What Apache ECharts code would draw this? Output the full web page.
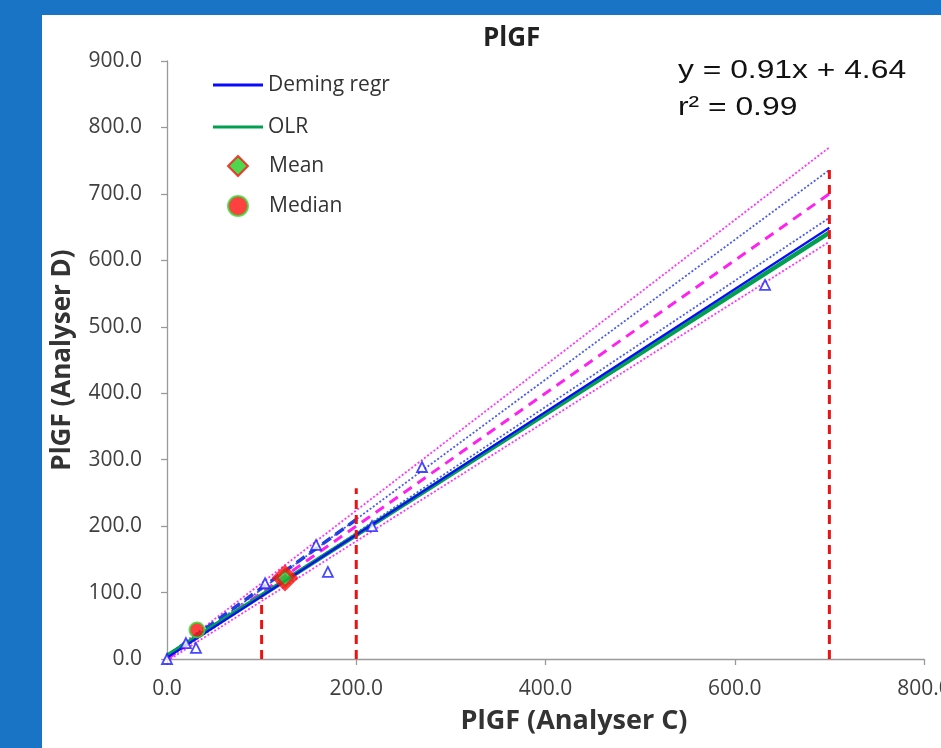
<!DOCTYPE html>
<html>
<head>
<meta charset="utf-8">
<script src="https://cdn.jsdelivr.net/npm/echarts@6/dist/echarts.min.js"></script>
<style>
html,body{margin:0;padding:0;background:#1a74c5;overflow:hidden;}
#wrap{position:absolute;left:0;top:0;width:941px;height:748px;background:#1a74c5;}
#chart{position:absolute;left:42px;top:15px;width:899px;height:733px;background:#fff;}
</style>
</head>
<body>
<div id="wrap"><div id="chart"></div></div>
<script>
// ---- data ----
const sampleX = [0, 20, 30.6, 103.6, 157.5, 170, 216.7, 269.5, 632];
const sampleY = [0, 24, 16.6, 114, 171.7, 131, 200, 289, 563];
const meanPoint = [124.7, 122];
const medianPoint = [31.7, 43.7];
const lineX = [0, 700];
const demingY = [2, 649];
const olrY = [4.64, 641.6];
const identityY = [0, 700];
const demingCIUpperY = [0, 736];
const demingCILowerY = [0, 664];
const bandUpperY = [5, 770];
const bandLowerY = [-3, 628];
const lowRangeX = [0, 205];
const lowRangeY = [4, 215];
const cutoffX = [100, 200, 700];
const cutoffTopY = [92, 257, 739];
const xTicks = [0, 200, 400, 600, 800];
const yTicks = [0, 100, 200, 300, 400, 500, 600, 700, 800, 900];

const pairs = (xs, ys) => xs.map((x, i) => [x, ys[i]]);
const chart = echarts.init(document.getElementById('chart'));
const font = '"Open Sans", "Noto Sans", sans-serif';

function lineSeries(name, ys, color, width, type, xs, z) {
  return {
    name, type: 'line', color, data: pairs(xs || lineX, ys), symbol: 'none', silent: true,
    itemStyle: { color }, lineStyle: { color, width, type }, z: z || 2, animation: false
  };
}

const series = [
  lineSeries('bandU', bandUpperY, '#ff33ff', 1.8, [2, 2]),
  lineSeries('bandL', bandLowerY, '#ff33ff', 1.8, [2, 2]),
  lineSeries('ciU', demingCIUpperY, '#4a5cf0', 1.8, [2, 2]),
  lineSeries('ciL', demingCILowerY, '#4a5cf0', 1.8, [2, 2]),
  lineSeries('identity', identityY, '#ff22ee', 3, [10, 7]),
  lineSeries('low', lowRangeY, '#1f3fe0', 3.5, [10, 6], lowRangeX),
  lineSeries('OLR', olrY, '#00a050', 4.5, 'solid', null, 3),
  lineSeries('Deming regr', demingY, '#0a0aff', 2.2, 'solid', null, 4),
];
cutoffX.forEach((x, i) => {
  series.push(lineSeries('cut' + i, [0, cutoffTopY[i]], '#ee1111', 3, [9, 6], [x, x], 5));
});
series.push({
  name: 'samples', type: 'scatter', data: pairs(sampleX, sampleY), symbol: 'triangle', symbolSize: 10,
  itemStyle: { color: '#fff', borderColor: '#1a1aff', borderWidth: 1.8 }, z: 6, animation: false
});
series.push({
  name: 'Mean', type: 'scatter', data: [meanPoint], symbol: 'diamond', symbolSize: 20,
  itemStyle: { color: '#22cc22', borderColor: '#ff1010', borderWidth: 5 }, z: 7, animation: false
});
series.push({
  name: 'Median', type: 'scatter', data: [medianPoint], symbol: 'circle', symbolSize: 15,
  itemStyle: { color: '#ff1010', borderColor: '#33dd33', borderWidth: 2 }, z: 7, animation: false
});

const axisCommon = {
  axisLine: { show: true, lineStyle: { color: '#9a9a9a', width: 1.3 } },
  axisTick: { show: true, length: 6, lineStyle: { color: '#9a9a9a', width: 1.3 } },
  splitLine: { show: false },
  axisLabel: { color: '#404040', fontSize: 21, fontFamily: font, formatter: v => v.toFixed(1) },
  nameTextStyle: { color: '#333', fontSize: 27, fontWeight: 'bold', fontFamily: font }
};

chart.setOption({
  animation: false,
  backgroundColor: '#fff',
  title: {
    text: 'PlGF', left: 441, top: 11, padding: 0,
    textStyle: { fontSize: 26, fontWeight: 'bold', color: '#222', fontFamily: font }
  },
  grid: { left: 125, right: 17, top: 46, bottom: 89, outerBoundsMode: 'none', containLabel: false },
  xAxis: Object.assign({}, axisCommon, {
    type: 'value', min: 0, max: 800, interval: 200,
    name: 'PlGF (Analyser C)', nameLocation: 'middle', nameGap: 49,
    nameTextStyle: Object.assign({}, axisCommon.nameTextStyle, { padding: [0, 0, 0, 57] }),
    axisLabel: Object.assign({}, axisCommon.axisLabel, { margin: 20, showMaxLabel: true })
  }),
  yAxis: Object.assign({}, axisCommon, {
    type: 'value', min: 0, max: 900, interval: 100,
    name: 'PlGF (Analyser D)', nameLocation: 'middle', nameGap: 91,
    nameTextStyle: Object.assign({}, axisCommon.nameTextStyle, { fontSize: 26 }),
    axisLabel: Object.assign({}, axisCommon.axisLabel, { margin: 25 })
  }),
  legend: [
    {
      data: [{ name: 'Deming regr', icon: 'rect' }, { name: 'OLR', icon: 'rect' }],
      orient: 'vertical', left: 166, top: 54, itemWidth: 50, itemHeight: 3,
      itemGap: 20, textStyle: { fontSize: 21, lineHeight: 22, color: '#333', fontFamily: font }
    },
    {
      data: ['Mean', 'Median'], orient: 'vertical', left: 180, top: 135, itemWidth: 20, itemHeight: 20,
      itemGap: 18, textStyle: { fontSize: 21, lineHeight: 22, color: '#333', fontFamily: font, padding: [0, 0, 0, 16] }
    }
  ],
  graphic: [
    { type: 'text', left: 636, top: 42, scaleX: 1.2, style: { text: 'y = 0.91x + 4.64', font: '26.5px "Liberation Sans", Arial, sans-serif', fill: '#111' } },
    { type: 'text', left: 636, top: 79, scaleX: 1.2, style: { text: 'r² = 0.99', font: '26.5px "Liberation Sans", Arial, sans-serif', fill: '#111' } }
  ],
  series
});
</script>
</body>
</html>
